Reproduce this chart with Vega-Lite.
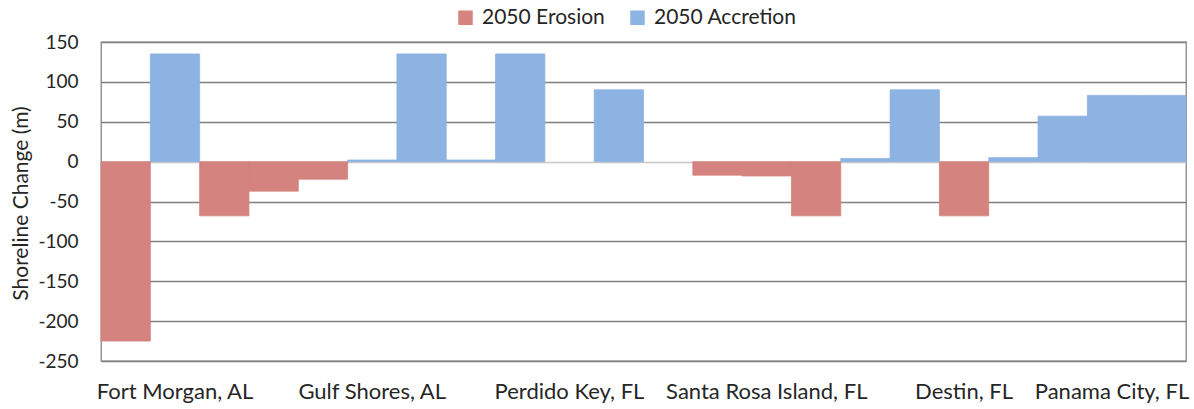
{
  "$schema": "https://vega.github.io/schema/vega-lite/v6.json",
  "autosize": "none",
  "width": 1085,
  "height": 319,
  "padding": {"left": 101, "top": 42, "right": 8, "bottom": 48},
  "background": "white",
  "config": {
    "font": "Lato",
    "view": {"stroke": "#868686", "strokeWidth": 1.3}
  },
  "data": {
    "values": [
      {"slot": 0, "series": "2050 Erosion", "change": -225},
      {"slot": 1, "series": "2050 Accretion", "change": 135},
      {"slot": 2, "series": "2050 Erosion", "change": -68},
      {"slot": 3, "series": "2050 Erosion", "change": -37},
      {"slot": 4, "series": "2050 Erosion", "change": -22},
      {"slot": 5, "series": "2050 Accretion", "change": 2},
      {"slot": 6, "series": "2050 Accretion", "change": 135},
      {"slot": 7, "series": "2050 Accretion", "change": 2},
      {"slot": 8, "series": "2050 Accretion", "change": 135},
      {"slot": 10, "series": "2050 Accretion", "change": 90},
      {"slot": 12, "series": "2050 Erosion", "change": -17},
      {"slot": 13, "series": "2050 Erosion", "change": -18},
      {"slot": 14, "series": "2050 Erosion", "change": -68},
      {"slot": 15, "series": "2050 Accretion", "change": 4},
      {"slot": 16, "series": "2050 Accretion", "change": 90},
      {"slot": 17, "series": "2050 Erosion", "change": -68},
      {"slot": 18, "series": "2050 Accretion", "change": 5},
      {"slot": 19, "series": "2050 Accretion", "change": 57},
      {"slot": 20, "series": "2050 Accretion", "change": 83},
      {"slot": 21, "series": "2050 Accretion", "change": 83}
    ]
  },
  "mark": {"type": "bar", "strokeWidth": 0.8},
  "encoding": {
    "x": {
      "field": "slot",
      "type": "ordinal",
      "scale": {
        "domain": [0,1,2,3,4,5,6,7,8,9,10,11,12,13,14,15,16,17,18,19,20,21],
        "paddingInner": 0,
        "paddingOuter": 0
      },
      "axis": {
        "title": null,
        "values": [1, 5, 9, 13, 17, 20],
        "labelExpr": "datum.value == 1 ? 'Fort Morgan, AL' : datum.value == 5 ? 'Gulf Shores, AL' : datum.value == 9 ? 'Perdido Key, FL' : datum.value == 13 ? 'Santa Rosa Island, FL' : datum.value == 17 ? 'Destin, FL' : 'Panama City, FL'",
        "labelAngle": 0,
        "labelOverlap": false,
        "labelBound": false,
        "labelLimit": 0,
        "labelFontSize": 22,
        "labelColor": "#262626",
        "labelPadding": 20,
        "ticks": false,
        "domain": false,
        "grid": false
      }
    },
    "y": {
      "field": "change",
      "type": "quantitative",
      "scale": {"domain": [-250, 150], "nice": false, "zero": false},
      "axis": {
        "title": "Shoreline Change (m)",
        "titleFontSize": 21,
        "titleFontWeight": "normal",
        "titleColor": "#262626",
        "titleX": -80,
        "titleY": 161,
        "titleBaseline": "middle",
        "titleAlign": "center",
        "titleAngle": -90,
        "values": [-250, -200, -150, -100, -50, 0, 50, 100, 150],
        "labelExpr": "datum.value < 0 ? '-' + abs(datum.value) : '' + datum.value",
        "labelFontSize": 19,
        "labelColor": "#262626",
        "labelPadding": 23,
        "ticks": false,
        "domain": false,
        "grid": true,
        "gridColor": {"condition": {"test": "datum.value === 0", "value": "#c8c8c8"}, "value": "#808080"},
        "gridWidth": 1.3
      }
    },
    "color": {
      "field": "series",
      "type": "nominal",
      "scale": {
        "domain": ["2050 Erosion", "2050 Accretion"],
        "range": ["#D4837F", "#8DB3E2"]
      },
      "legend": {
        "title": null,
        "orient": "none",
        "direction": "horizontal",
        "legendX": 354,
        "legendY": -35,
        "symbolType": "square",
        "symbolSize": 210,
        "symbolStrokeWidth": 0,
        "labelFontSize": 21,
        "labelColor": "#262626",
        "columnPadding": 22,
        "labelOffset": 6
      }
    },
    "stroke": {
      "field": "series",
      "type": "nominal",
      "scale": {
        "domain": ["2050 Erosion", "2050 Accretion"],
        "range": ["#D4837F", "#8DB3E2"]
      },
      "legend": null
    }
  }
}
